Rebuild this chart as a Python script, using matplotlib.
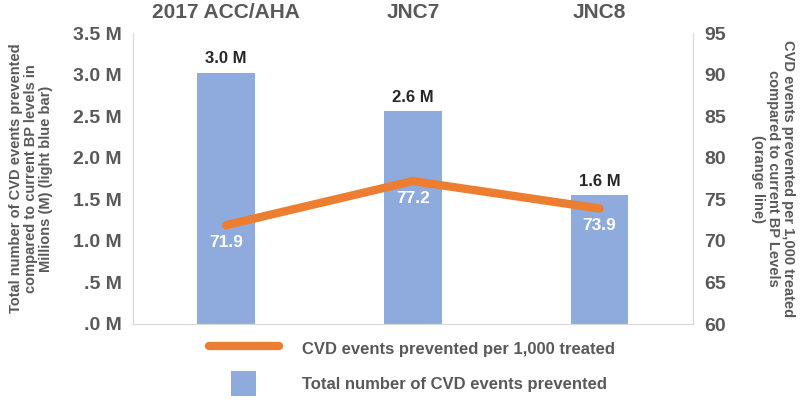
import matplotlib
matplotlib.use("Agg")
import matplotlib.pyplot as plt
from matplotlib.lines import Line2D
from matplotlib.patches import Patch, Rectangle
from matplotlib.legend_handler import HandlerPatch

plt.rcParams['font.family'] = ['Liberation Sans', 'DejaVu Sans']

# Data
categories = ["2017 ACC/AHA", "JNC7", "JNC8"]
total_events = [3.02, 2.56, 1.55]          # millions
total_labels = ["3.0 M", "2.6 M", "1.6 M"]
per_1000 = [71.9, 77.2, 73.9]
left_ticks = [0, 0.5, 1.0, 1.5, 2.0, 2.5, 3.0, 3.5]
left_tick_labels = [".0 M", ".5 M", "1.0 M", "1.5 M", "2.0 M", "2.5 M", "3.0 M", "3.5 M"]
right_ticks = [60, 65, 70, 75, 80, 85, 90, 95]

GRAY = "#595959"
BLUE = "#8faadc"
ORANGE = "#ed7d31"
SPINE = "#d9d9d9"


class SquareHandler(HandlerPatch):
    # small square in the middle of the handle box, like the Excel legend
    def create_artists(self, legend, orig_handle, xdescent, ydescent, width, height, fontsize, trans):
        side = height * 1.1
        r = Rectangle((width / 2 - side / 2 - xdescent, -ydescent + height / 2 - side / 2), side, side,
                      facecolor=orig_handle.get_facecolor(), edgecolor="none", transform=trans)
        return [r]


fig = plt.figure(figsize=(8, 4), dpi=100)
ax = fig.add_axes([0.166, 0.19, 0.7, 0.727])
ax2 = ax.twinx()

x = list(range(len(categories)))
ax.bar(x, total_events, width=0.31, color=BLUE, zorder=1)
for xi, v, lab in zip(x, total_events, total_labels):
    ax.text(xi, v + 0.08, lab, ha="center", va="bottom", fontsize=12,
            fontweight="bold", color="#262626")

ax.set_xlim(-0.5, 2.5)
ax.set_ylim(0, 3.5)
ax.set_yticks(left_ticks)
ax.set_yticklabels(left_tick_labels)
ax.set_xticks(x)
ax.set_xticklabels(categories)
ax.xaxis.tick_top()
ax.tick_params(axis="x", length=0, pad=8, labelsize=15, labelcolor=GRAY)
for t in ax.get_xticklabels():
    t.set_fontweight("bold")
ax.tick_params(axis="y", length=0, labelsize=14, labelcolor=GRAY, pad=8)
for t in ax.get_yticklabels():
    t.set_fontweight("bold")

ax2.plot(x, per_1000, color=ORANGE, linewidth=6, solid_capstyle="round", zorder=3)
for xi, v in zip(x, per_1000):
    ax2.text(xi, v - 1.2, f"{v:.1f}", ha="center", va="top", fontsize=12.5,
             color="white", fontweight="bold")
ax2.set_ylim(60, 95)
ax2.set_yticks(right_ticks)
ax2.tick_params(axis="y", length=0, labelsize=14, labelcolor=GRAY, pad=8)
for t in ax2.get_yticklabels():
    t.set_fontweight("bold")

for a in (ax, ax2):
    a.spines["top"].set_visible(False)
    for s in ("left", "right", "bottom"):
        a.spines[s].set_color(SPINE)

ax.set_ylabel("Total number of CVD events prevented\ncompared to current BP levels in\nMillions (M) (light blue bar)",
              fontsize=10.5, fontweight="bold", color=GRAY, labelpad=14, linespacing=1.1)
ax2.set_ylabel("CVD events prevented per 1,000 treated\ncompared to current BP Levels\n(orange line)",
               fontsize=10.5, fontweight="bold", color=GRAY, rotation=270, labelpad=50,
               linespacing=1.1)

handles = [Line2D([0], [0], color=ORANGE, linewidth=6, solid_capstyle="round"),
           Patch(facecolor=BLUE)]
labels = ["CVD events prevented per 1,000 treated", "Total number of CVD events prevented"]
fig.legend(handles, labels, loc="lower center", bbox_to_anchor=(0.515, -0.025), frameon=False,
           labelcolor=GRAY, handlelength=4.2, handleheight=1.7, handletextpad=1.4,
           prop={"weight": "bold", "size": 12}, labelspacing=0.75,
           handler_map={Patch: SquareHandler()})

fig.savefig("out.png", dpi=100)
